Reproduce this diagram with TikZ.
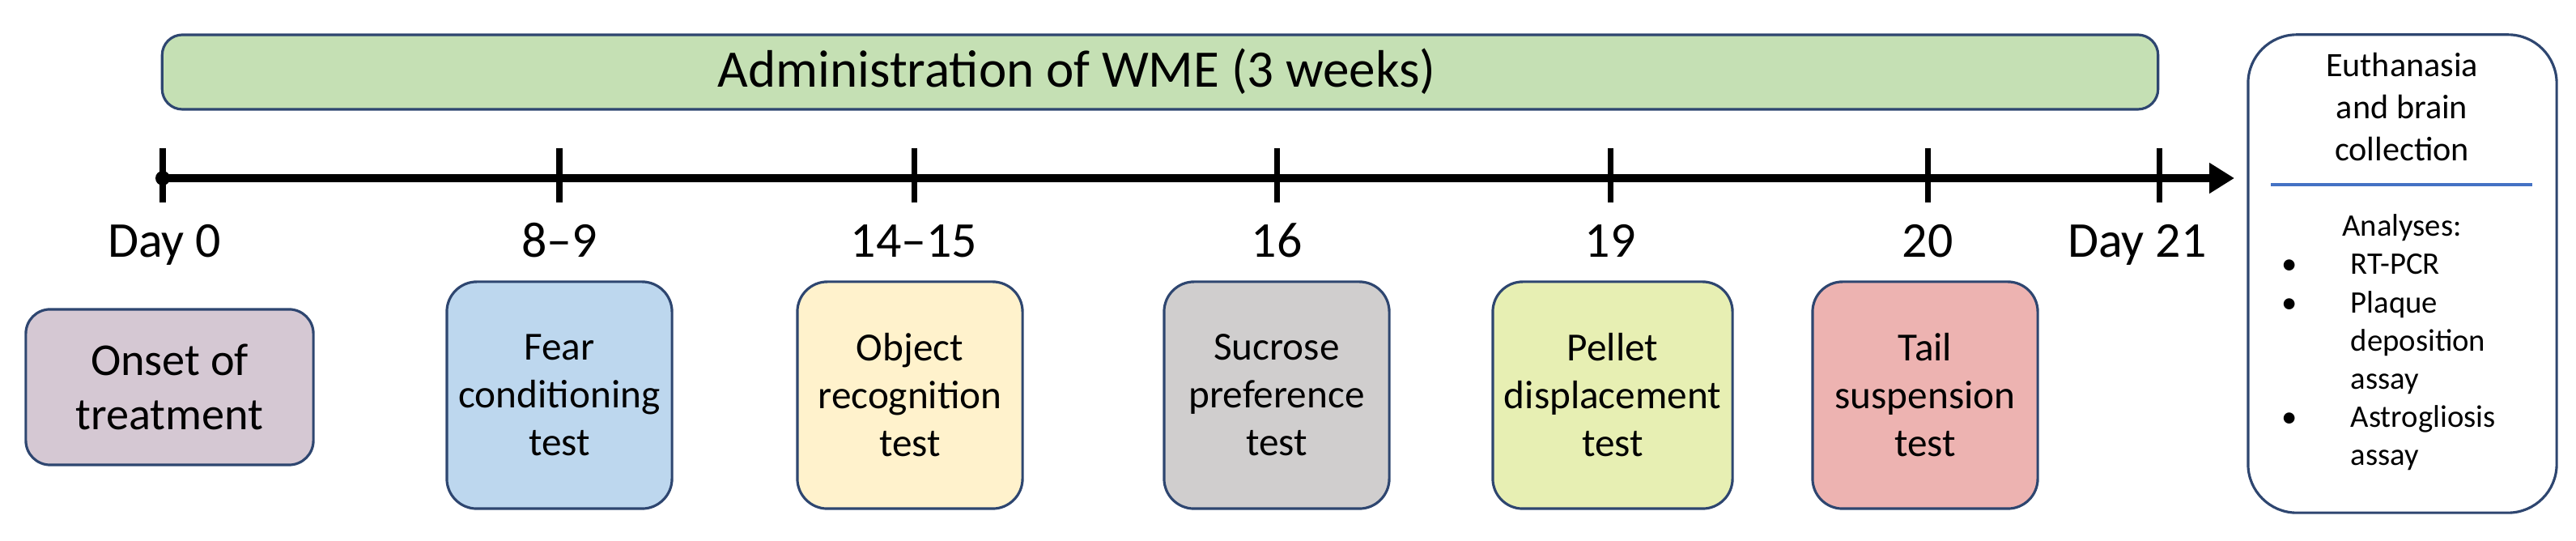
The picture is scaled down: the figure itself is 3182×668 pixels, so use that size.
\documentclass[tikz,border=0pt]{standalone}
\usepackage{fontspec}
\setmainfont{Carlito}
\usepackage{tikz}
\usetikzlibrary{arrows.meta,positioning}
\definecolor{navy}     {HTML}{2E4670}
\definecolor{rulecol}  {HTML}{4472C4}
\definecolor{wmefill}  {HTML}{C5E0B4}
\definecolor{onsetfill}{HTML}{D5C8D3}
\definecolor{fearfill} {HTML}{BDD7EE}
\definecolor{objfill}  {HTML}{FFF2CC}
\definecolor{sucfill}  {HTML}{D0CECE}
\definecolor{pelfill}  {HTML}{E7EFB3}
\definecolor{tailfill} {HTML}{EDB3B1}
\tikzset{
  >=Triangle,
  % --- nodes
  bar/.style   = {draw=navy, line width=0.9pt, rounded corners=0.25cm, fill=wmefill,
                  minimum width=24.64cm, minimum height=0.92cm, inner sep=0pt},
  tbox/.style  = {draw=navy, line width=0.9pt, rounded corners=0.37cm, align=center,
                  minimum width=2.78cm, minimum height=2.8cm, inner sep=2pt,
                  font=\fontsize{14}{16.8}\selectfont},
  onset/.style = {tbox, fill=onsetfill, rounded corners=0.3cm, minimum width=3.55cm,
                  minimum height=1.92cm, font=\fontsize{16}{19}\selectfont},
  endbox/.style= {draw=navy, line width=0.9pt, rounded corners=0.6cm, fill=white,
                  minimum width=3.81cm, minimum height=5.9cm, inner sep=0pt},
  dlbl/.style  = {font=\fontsize{17.6}{20}\selectfont, anchor=base, inner sep=0pt},
  small/.style = {font=\fontsize{12}{14.8}\selectfont, align=center, inner sep=0pt},
  % --- edges
  axis/.style  = {line width=2.85pt, -{Triangle[length=0.31cm,width=0.36cm]}},
  tickln/.style= {line width=2pt},
}
\begin{document}
\begin{tikzpicture}[x=0.01cm, y=-0.01cm]
  \useasboundingbox (0,0) rectangle (3182,668);
  % treatment bar
  \node[bar] (wme) at (1433,89) {};
  \node[font=\fontsize{18.5}{22}\selectfont, anchor=base] (wmetxt) at (1330,108)
    {Administration of WME (3 weeks)};
  % time axis
  \coordinate (d0) at (201,220);
  \coordinate (tip) at (2760,220);
  \draw[axis] (d0) -- (tip);
  \fill (d0) circle (9);
  \foreach \x in {201,691,1129,1577,1989,2381,2667}
    \draw[tickln] (\x,183) -- (\x,250);
  \foreach \x/\t [count=\i] in {203/Day 0,691/8--9,1129/14--15,1577/16,1989/19,2381/20,2640/Day 21}
    \node[dlbl] (day\i) at (\x,318) {\t};
  % tests
  \node[onset] (onset) at (209.5,478) {Onset of\\treatment};
  \node[tbox, fill=fearfill] (fear) at (691,488) {Fear\\conditioning\\test};
  \node[tbox, fill=objfill] (obj) at (1124,488) {Object\\recognition\\test};
  \node[tbox, fill=sucfill] (suc) at (1577,488) {Sucrose\\preference\\test};
  \node[tbox, fill=pelfill, minimum width=2.96cm] (pel) at (1992,488) {Pellet\\displacement\\test};
  \node[tbox, fill=tailfill] (tail) at (2378,488) {Tail\\suspension\\test};
  % end point
  \node[endbox] (end) at (2967.5,338) {};
  \node[small] (euth) at (2967,132) {Euthanasia\\and brain\\collection};
  \coordinate (rl) at (2805,228);
  \coordinate (rr) at (3128,228);
  \draw[rulecol, line width=0.9pt] (rl) -- (rr);
  \node[font=\fontsize{11}{13.4}\selectfont, anchor=base, inner sep=0pt] (anl) at (2967,292) {Analyses:};
  \node[font=\fontsize{11}{13.4}\selectfont, anchor=base west, inner sep=0pt] (list) at (2818,339)
    {\begin{tabular}[t]{@{}p{0.85cm}@{}l@{}}
      \textbullet & RT-PCR\\
      \textbullet & Plaque\\
                  & deposition\\
                  & assay\\
      \textbullet & Astrogliosis\\
                  & assay
     \end{tabular}};
\end{tikzpicture}
\end{document}
